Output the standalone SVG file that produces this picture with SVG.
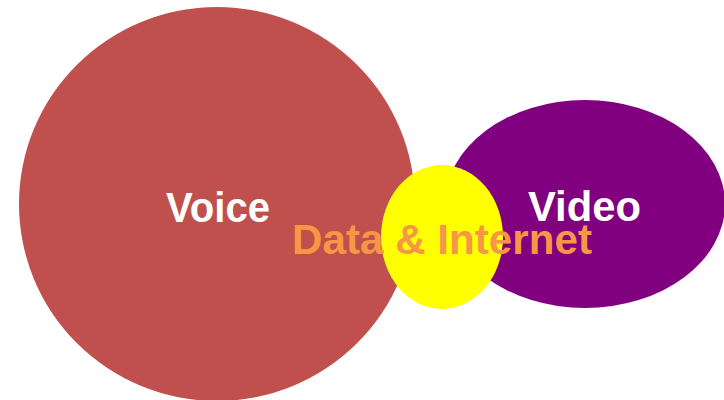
<svg xmlns="http://www.w3.org/2000/svg" width="724" height="400" viewBox="0 0 724 400">
<style>
.lbl{font-family:"Liberation Sans",Arial,sans-serif;font-weight:bold;font-size:43px;text-anchor:middle}
.w{fill:#FFFFFF}
.o{fill:#F79646}
</style>
<rect width="724" height="400" fill="#FFFFFF"/>
<g id="voice">
<ellipse cx="217" cy="204" rx="198" ry="197" fill="#C0504D"/>
</g>
<g id="video">
<ellipse cx="585" cy="204" rx="140" ry="104" fill="#800080"/>
</g>
<g id="data">
<ellipse cx="442" cy="237" rx="61" ry="72" fill="#FFFF00"/>
</g>
<g id="connectors"></g>
<g id="labels">
<text class="lbl w" x="218" y="222" textLength="104" lengthAdjust="spacingAndGlyphs">Voice</text>
<text class="lbl w" x="584.5" y="221" textLength="113" lengthAdjust="spacingAndGlyphs">Video</text>
<text class="lbl o" x="442" y="254" textLength="300" lengthAdjust="spacingAndGlyphs">Data &amp; Internet</text>
</g>
</svg>
